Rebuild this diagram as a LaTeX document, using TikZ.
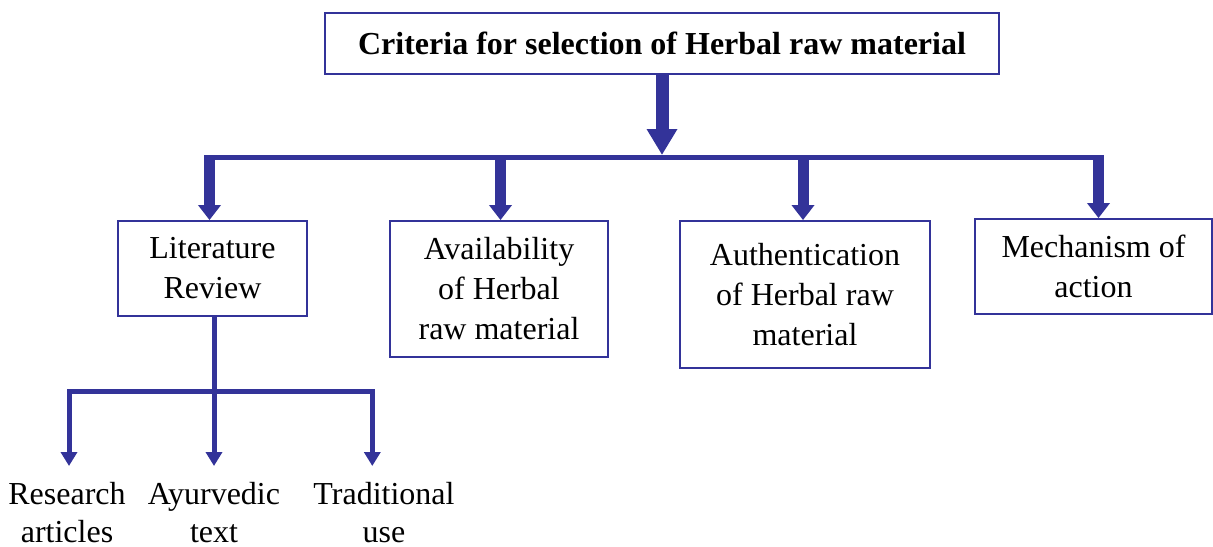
\documentclass[tikz,border=0pt]{standalone}
\usepackage{fontspec}
\setmainfont{Liberation Serif}
\usetikzlibrary{arrows.meta}
\definecolor{navy}{RGB}{51,51,153}
\begin{document}
\begin{tikzpicture}[x=0.75pt,y=-0.75pt,
  box/.style={draw=navy,line width=1.4pt,inner sep=0pt,align=center,font=\fontsize{24}{30}\selectfont},
  leaf/.style={anchor=north,inner xsep=0pt,inner ysep=12pt,align=center,font=\fontsize{24}{28.5}\selectfont},
  bigarrow/.style={draw=navy,line width=9.75pt,-{Triangle[width=21.75pt,length=19.5pt]}},
  droparrow/.style={draw=navy,line width=8.25pt,-{Triangle[width=16.5pt,length=11.25pt]}},
  barline/.style={draw=navy,line width=3.75pt},
  subarrow/.style={draw=navy,line width=3.75pt,-{Triangle[width=12pt,length=10.5pt]}}
]
\useasboundingbox (0,0) rectangle (1213,546);
\node[box,minimum width=505.5pt,minimum height=45.75pt,font=\fontsize{24}{30}\selectfont\bfseries] (title) at (662,43.5) {Criteria for selection of Herbal raw material};
\node[box,minimum width=141.75pt,minimum height=71.25pt] (lit) at (212.5,268.5) {Literature\\Review};
\node[box,minimum width=163.5pt,minimum height=102pt] (avail) at (499,289) {Availability\\of Herbal\\raw material};
\node[box,minimum width=187.5pt,minimum height=110.25pt] (auth) at (805,294.5) {Authentication\\of Herbal raw\\material};
\node[box,minimum width=177.75pt,minimum height=71.25pt] (mech) at (1093.5,266.5) {Mechanism of\\action};
% top distribution
\coordinate (bl) at (204,157.5);
\coordinate (br) at (1104,157.5);
\coordinate (d1) at (209.5,155);
\coordinate (d2) at (500.5,155);
\coordinate (d3) at (803,155);
\coordinate (d4) at (1098.5,155);
\draw[bigarrow] (title.south) -- (title.south |- d1);
\draw[barline] (bl) -- (br);
\draw[droparrow] (d1) -- (d1 |- lit.north);
\draw[droparrow] (d2) -- (d2 |- avail.north);
\draw[droparrow] (d3) -- (d3 |- auth.north);
\draw[droparrow] (d4) -- (d4 |- mech.north);
% literature subtree
\node[leaf] (res) at (67,466) {Research\\articles};
\node[leaf] (ayu) at (214,466) {Ayurvedic\\text};
\node[leaf] (tra) at (384,466) {Traditional\\use};
\coordinate (s0) at (214,391);
\coordinate (sl) at (67.5,391);
\coordinate (sr) at (374,391);
\coordinate (s1) at (69,389.2);
\coordinate (s2) at (214,389.2);
\coordinate (s3) at (372.3,389.2);
\draw[barline] (lit.south -| s0) -- (s0);
\draw[barline] (sl) -- (sr);
\draw[subarrow] (s1) -- (s1 |- res.north);
\draw[subarrow] (s2) -- (s2 |- ayu.north);
\draw[subarrow] (s3) -- (s3 |- tra.north);
\end{tikzpicture}
\end{document}
